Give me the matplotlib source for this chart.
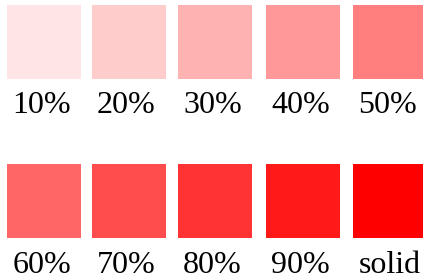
import matplotlib
matplotlib.use("Agg")
import matplotlib.pyplot as plt
from matplotlib.patches import Rectangle

labels = ["10%", "20%", "30%", "40%", "50%", "60%", "70%", "80%", "90%", "solid"]
opacities = [0.1, 0.2, 0.3, 0.4, 0.5, 0.6, 0.7, 0.8, 0.9, 1.0]
base_color = "#ff0000"

W, H = 423, 278
fig = plt.figure(figsize=(W / 100, H / 100), dpi=100)
ax = fig.add_axes([0, 0, 1, 1])
ax.set_xlim(0, W)
ax.set_ylim(H, 0)
ax.axis("off")

col_x = [7, 92, 178, 266, 353]
row_y = [5, 164]
size = 74
text_base = [113, 273]

for i, (lab, a) in enumerate(zip(labels, opacities)):
    r, c = divmod(i, 5)
    x, y = col_x[c], row_y[r]
    ax.add_patch(Rectangle((x, y), size, size, facecolor=base_color, alpha=a,
                           edgecolor="none"))
    dx = -2.5 if lab.endswith("%") else 0
    ax.text(x + size / 2 + dx, text_base[r], lab, ha="center", va="baseline",
            fontsize=23, family="Liberation Serif", color="black")

fig.savefig("out.png", dpi=100)
